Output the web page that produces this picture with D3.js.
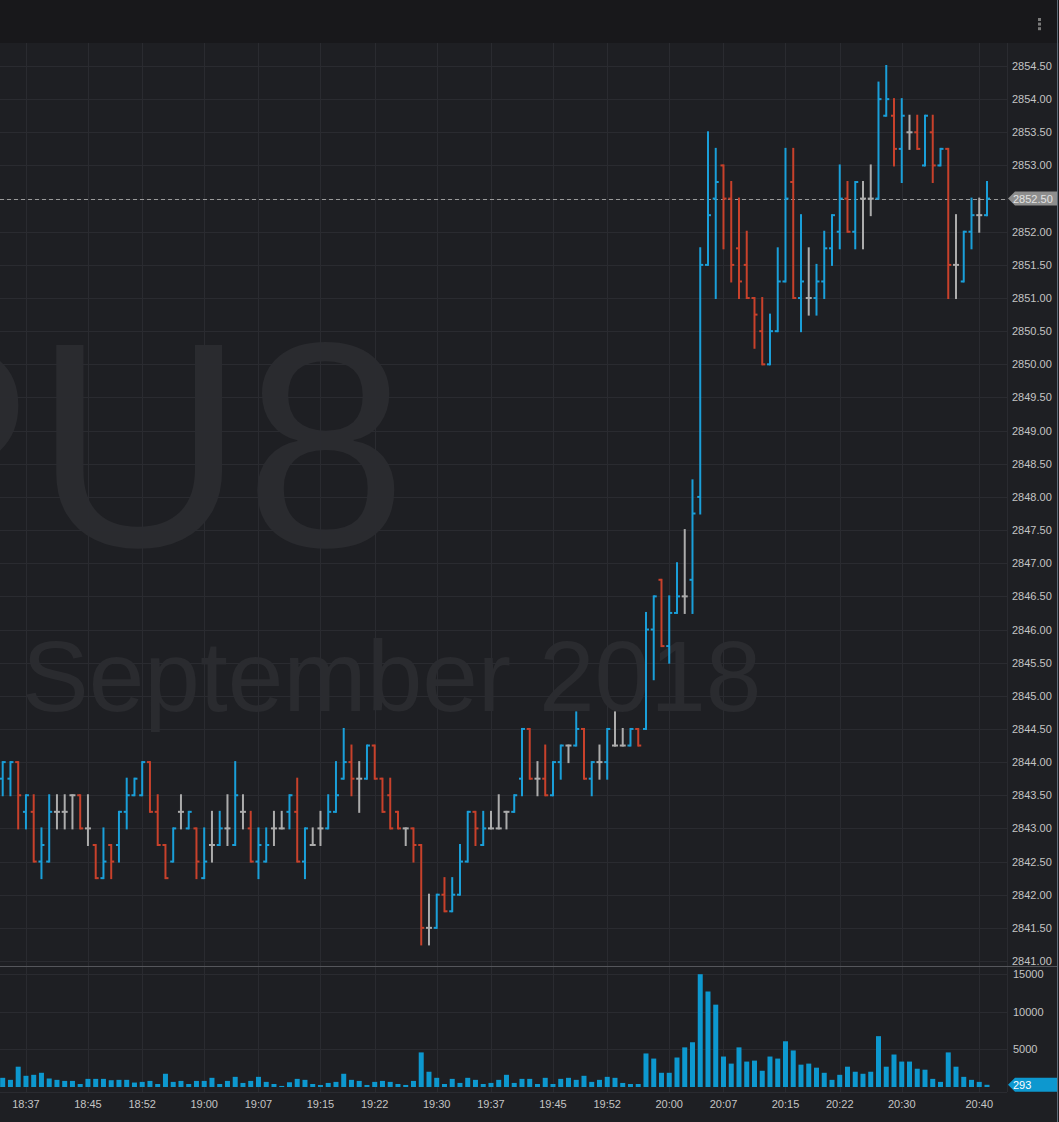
<!DOCTYPE html>
<html lang="en">
<head>
    <meta charset="UTF-8">
    <title>SPU8 1 min</title>
    <style>
        html, body { margin: 0; padding: 0; background: #1e1f23; }
        svg { display: block; }
        text { font-family: "Liberation Sans", Arial, sans-serif; }
    </style>
</head>
<body>
    <div id="chart"></div>
    <script src="https://d3js.org/d3.v7.min.js"></script>
    <script>
        // one bar per minute, first bar 18:34
        const firstBar = "18:34";
        const priceOpen = [
            2843.75, 2843.75, 2844.0, 2843.25, 2843.25, 2842.5, 2842.5, 2843.25, 2843.25, 2843.5,
            2843.5, 2843.0, 2842.75, 2842.25, 2842.75, 2842.75, 2843.25, 2843.5, 2843.5, 2844.0,
            2843.25, 2842.75, 2842.5, 2843.25, 2843.0, 2843.0, 2842.25, 2842.75, 2842.75, 2843.0,
            2842.75, 2843.25, 2843.0, 2842.5, 2842.5, 2843.0, 2843.0, 2843.25, 2843.25, 2842.5,
            2842.75, 2843.0, 2843.0, 2843.25, 2843.75, 2844.0, 2843.75, 2843.75, 2844.25, 2843.75,
            2843.5, 2843.25, 2843.0, 2843.0, 2842.75, 2841.5, 2841.5, 2842.0, 2841.75, 2842.0,
            2842.5, 2843.25, 2842.75, 2843.0, 2843.0, 2843.25, 2843.25, 2843.75, 2844.5, 2843.75,
            2843.75, 2843.5, 2844.0, 2844.25, 2844.25, 2844.5, 2843.75, 2844.0, 2844.0, 2844.25,
            2844.25, 2844.25, 2844.5, 2844.5, 2846.0, 2846.75, 2845.75, 2846.25, 2846.5, 2846.75,
            2848.0, 2851.5, 2852.5, 2853.0, 2852.5, 2851.75, 2851.5, 2851.0, 2850.5, 2850.0,
            2850.5, 2851.25, 2852.75, 2851.0, 2851.0, 2851.0, 2851.25, 2851.75, 2852.0, 2852.5,
            2852.0, 2852.5, 2852.5, 2852.5, 2853.75, 2853.75, 2853.25, 2853.5, 2853.5, 2853.0,
            2853.5, 2853.0, 2853.25, 2851.5, 2851.25, 2852.0, 2852.25, 2852.25
        ];
        const priceHigh = [
            2844.0, 2844.0, 2844.0, 2843.5, 2843.5, 2843.0, 2843.5, 2843.5, 2843.5, 2843.5,
            2843.5, 2843.5, 2842.75, 2843.0, 2842.75, 2843.25, 2843.75, 2843.75, 2844.0, 2844.0,
            2843.5, 2842.75, 2843.0, 2843.5, 2843.25, 2843.0, 2843.0, 2843.25, 2843.25, 2843.5,
            2844.0, 2843.5, 2843.25, 2843.0, 2843.0, 2843.25, 2843.25, 2843.5, 2843.75, 2843.0,
            2843.0, 2843.25, 2843.5, 2844.0, 2844.5, 2844.25, 2844.0, 2844.25, 2844.25, 2843.75,
            2843.75, 2843.25, 2843.0, 2843.0, 2842.75, 2842.0, 2842.0, 2842.25, 2842.25, 2842.75,
            2843.25, 2843.25, 2843.25, 2843.25, 2843.5, 2843.25, 2843.5, 2844.5, 2844.5, 2844.0,
            2844.25, 2844.0, 2844.25, 2844.25, 2844.75, 2844.5, 2844.0, 2844.25, 2844.5, 2844.75,
            2844.5, 2844.5, 2844.5, 2846.25, 2846.5, 2846.75, 2846.5, 2847.0, 2847.5, 2848.25,
            2851.75, 2853.5, 2853.25, 2853.0, 2852.75, 2852.5, 2852.0, 2851.0, 2851.0, 2850.75,
            2851.75, 2853.25, 2853.25, 2852.25, 2851.75, 2851.5, 2852.0, 2852.25, 2853.0, 2852.75,
            2852.75, 2852.75, 2853.0, 2854.25, 2854.5, 2854.0, 2854.0, 2853.75, 2853.75, 2853.75,
            2853.75, 2853.25, 2853.25, 2852.25, 2852.0, 2852.5, 2852.5, 2852.75
        ];
        const priceLow = [
            2843.5, 2843.5, 2843.0, 2843.0, 2842.5, 2842.25, 2842.5, 2843.0, 2843.0, 2843.0,
            2843.0, 2842.75, 2842.25, 2842.25, 2842.25, 2842.5, 2843.0, 2843.5, 2843.5, 2843.25,
            2842.75, 2842.25, 2842.5, 2843.0, 2843.0, 2842.25, 2842.25, 2842.5, 2842.75, 2842.75,
            2842.75, 2843.0, 2842.5, 2842.25, 2842.5, 2842.75, 2843.0, 2843.0, 2842.5, 2842.25,
            2842.75, 2842.75, 2843.0, 2843.25, 2843.75, 2843.5, 2843.25, 2843.75, 2843.75, 2843.25,
            2843.0, 2843.0, 2842.75, 2842.5, 2841.25, 2841.25, 2841.5, 2841.75, 2841.75, 2842.0,
            2842.5, 2842.75, 2842.75, 2843.0, 2843.0, 2843.0, 2843.25, 2843.5, 2843.75, 2843.5,
            2843.5, 2843.5, 2843.75, 2844.0, 2844.25, 2843.75, 2843.5, 2843.75, 2843.75, 2844.25,
            2844.25, 2844.25, 2844.25, 2844.5, 2845.25, 2845.75, 2845.5, 2846.25, 2846.25, 2846.25,
            2847.75, 2851.5, 2851.0, 2851.75, 2851.25, 2851.0, 2851.0, 2850.25, 2850.0, 2850.0,
            2850.5, 2851.25, 2851.0, 2850.5, 2850.75, 2850.75, 2851.0, 2851.5, 2851.75, 2852.0,
            2851.75, 2851.75, 2852.25, 2852.5, 2853.75, 2853.0, 2852.75, 2853.25, 2853.25, 2853.0,
            2852.75, 2853.0, 2851.0, 2851.0, 2851.25, 2851.75, 2852.0, 2852.25
        ];
        const priceClose = [
            2844.0, 2844.0, 2843.5, 2843.5, 2842.5, 2842.75, 2843.25, 2843.25, 2843.25, 2843.5,
            2843.0, 2843.0, 2842.25, 2842.5, 2842.5, 2843.25, 2843.5, 2843.75, 2844.0, 2843.25,
            2842.75, 2842.25, 2843.0, 2843.25, 2843.25, 2842.5, 2842.5, 2842.75, 2843.0, 2843.0,
            2843.5, 2843.25, 2842.5, 2842.75, 2842.75, 2843.0, 2843.0, 2843.5, 2842.5, 2843.0,
            2842.75, 2843.0, 2843.25, 2843.5, 2844.0, 2843.75, 2843.75, 2844.25, 2843.75, 2843.25,
            2843.0, 2843.0, 2843.0, 2842.75, 2841.5, 2841.5, 2842.0, 2841.75, 2842.0, 2842.5,
            2843.25, 2843.0, 2843.0, 2843.0, 2843.0, 2843.25, 2843.5, 2844.5, 2843.75, 2843.75,
            2843.5, 2844.0, 2844.25, 2844.25, 2844.5, 2843.75, 2844.0, 2844.0, 2844.5, 2844.25,
            2844.25, 2844.5, 2844.25, 2846.0, 2846.5, 2845.75, 2846.25, 2846.5, 2846.5, 2847.75,
            2851.5, 2852.25, 2852.75, 2852.5, 2851.5, 2851.25, 2851.0, 2850.75, 2850.0, 2850.5,
            2851.25, 2852.5, 2851.0, 2851.25, 2851.0, 2851.25, 2851.75, 2852.25, 2852.5, 2852.0,
            2852.75, 2852.5, 2852.5, 2854.0, 2854.0, 2853.25, 2853.75, 2853.5, 2853.25, 2853.75,
            2853.0, 2853.25, 2851.5, 2851.5, 2852.0, 2852.25, 2852.25, 2852.5
        ];
        const volume = [
            1220, 950, 2700, 1490, 1620, 1890, 1130, 950, 810, 810,
            400, 1080, 1080, 1080, 900, 950, 950, 590, 680, 810,
            400, 1760, 680, 810, 400, 810, 810, 1220, 400, 810,
            1350, 540, 810, 1350, 680, 400, 140, 630, 1080, 950,
            400, 270, 540, 680, 1760, 950, 810, 270, 680, 810,
            680, 400, 270, 810, 4600, 2030, 1220, 400, 1080, 540,
            1220, 950, 400, 540, 950, 1620, 540, 1080, 1080, 400,
            1220, 400, 1080, 1220, 950, 1490, 680, 950, 1350, 1220,
            540, 400, 400, 4460, 3780, 1890, 1890, 3920, 5270, 5950,
            15000, 12700, 10950, 4050, 3110, 5270, 3380, 3510, 2160, 4050,
            3780, 6080, 4860, 2970, 3110, 2570, 1890, 950, 1620, 2700,
            2030, 1760, 2030, 6760, 2700, 4320, 3380, 3380, 2430, 2300,
            1080, 680, 4600, 2700, 1350, 950, 680, 293
        ];
        const timeTicks = ["18:37", "18:45", "18:52", "19:00", "19:07", "19:15", "19:22", "19:30", "19:37",
            "19:45", "19:52", "20:00", "20:07", "20:15", "20:22", "20:30", "20:40"];
        const priceTicks = d3.range(2841, 2854.51, 0.5);
        const volumeTicks = [5000, 10000, 15000];
        const lastPrice = 2852.5;
        const symbol = "SPU8";
        const contract = "September 2018";

        const width = 1059, height = 1122;
        const plotRight = 1007;
        const colors = { up: "#1a9fd9", down: "#c8412b", flat: "#acacac" };

        function minutesOf(t) { const p = t.split(":"); return +p[0] * 60 + +p[1]; }
        const bars = priceOpen.map((o, i) => ({
            i: i, o: o, h: priceHigh[i], l: priceLow[i], c: priceClose[i], v: volume[i]
        }));

        const x = d3.scaleLinear().domain([0, bars.length - 1]).range([2.7, 987]);
        const y = d3.scaleLinear().domain([2841, 2854.5]).range([961, 66]);
        const yv = d3.scaleLinear().domain([0, 15000]).range([1087, 974.2]);

        const svg = d3.select("#chart").append("svg")
            .attr("width", width).attr("height", height);

        svg.append("rect").attr("width", width).attr("height", height).attr("fill", "#1e1f23");
        svg.append("rect").attr("width", width).attr("height", 43).attr("fill", "#18181b");

        // menu dots
        svg.append("g").selectAll("rect").data([0, 1, 2]).enter().append("rect")
            .attr("x", 1038).attr("y", d => 18 + d * 4.6).attr("width", 3).attr("height", 3)
            .attr("fill", "#7a7a7a");

        // watermark
        svg.append("text").attr("x", 407).attr("y", 546).attr("text-anchor", "end")
            .attr("font-size", 292).attr("fill", "#2a2b2f").text(symbol);
        svg.append("text").attr("x", 22).attr("y", 711)
            .attr("font-size", 100).attr("fill", "#2a2b2f").text(contract);

        const grid = svg.append("g").attr("stroke", "#2a2b30").attr("stroke-width", 1);
        const tickIdx = timeTicks.map(t => minutesOf(t) - minutesOf(firstBar));
        grid.selectAll(".vg").data(tickIdx).enter().append("line")
            .attr("x1", d => Math.round(x(d)) + 0.5).attr("x2", d => Math.round(x(d)) + 0.5)
            .attr("y1", 43).attr("y2", 1092);
        grid.selectAll(".hg").data(priceTicks).enter().append("line")
            .attr("x1", 0).attr("x2", plotRight)
            .attr("y1", d => Math.round(y(d)) + 0.5).attr("y2", d => Math.round(y(d)) + 0.5);
        grid.selectAll(".vhg").data(volumeTicks).enter().append("line")
            .attr("x1", 0).attr("x2", plotRight)
            .attr("y1", d => Math.round(yv(d)) + 0.5).attr("y2", d => Math.round(yv(d)) + 0.5);
        grid.append("line").attr("x1", 0).attr("x2", plotRight).attr("y1", 1092.5).attr("y2", 1092.5);
        grid.append("line").attr("x1", plotRight + 0.5).attr("x2", plotRight + 0.5).attr("y1", 43).attr("y2", 1092);

        // price axis labels
        svg.append("g").selectAll("text").data(priceTicks).enter().append("text")
            .attr("x", 1012).attr("y", d => y(d) + 4)
            .attr("font-size", 11).attr("fill", "#c4c4c4")
            .text(d => d.toFixed(2));

        // last price line and tag
        svg.append("line").attr("x1", 0).attr("x2", plotRight)
            .attr("y1", Math.round(y(lastPrice)) + 0.5).attr("y2", Math.round(y(lastPrice)) + 0.5)
            .attr("stroke", "#9a9a9a").attr("stroke-dasharray", "4,3");

        function tag(yy, fill, label, color) {
            const g = svg.append("g");
            g.append("path")
                .attr("d", `M1008,${yy} L1015,${yy - 7} L1057,${yy - 7} L1057,${yy + 7} L1015,${yy + 7} Z`)
                .attr("fill", fill);
            g.append("text").attr("x", 1013).attr("y", yy + 4)
                .attr("font-size", 11).attr("fill", color).text(label);
        }
        tag(y(lastPrice), "#8e8e8e", lastPrice.toFixed(2), "#e2e2e2");

        // OHLC bars
        const colorOf = d => d.c > d.o ? colors.up : (d.c < d.o ? colors.down : colors.flat);
        const ohlc = svg.append("g").attr("stroke-width", 2).attr("fill", "none");
        const bar = ohlc.selectAll("g").data(bars).enter().append("g")
            .attr("stroke", colorOf);
        bar.append("line")
            .attr("x1", d => x(d.i)).attr("x2", d => x(d.i))
            .attr("y1", d => y(d.h) - 1).attr("y2", d => y(d.l) + 1);
        bar.append("line")
            .attr("x1", d => x(d.i) - 3).attr("x2", d => x(d.i))
            .attr("y1", d => y(d.o)).attr("y2", d => y(d.o));
        bar.append("line")
            .attr("x1", d => x(d.i)).attr("x2", d => x(d.i) + 3)
            .attr("y1", d => y(d.c)).attr("y2", d => y(d.c));

        // pane separator
        svg.append("line").attr("x1", 0).attr("x2", 1057).attr("y1", 966.5).attr("y2", 966.5)
            .attr("stroke", "#55565b");

        // volume
        svg.append("g").selectAll("rect").data(bars).enter().append("rect")
            .attr("x", d => x(d.i) - 2.5).attr("width", 5)
            .attr("y", d => yv(d.v)).attr("height", d => yv(0) - yv(d.v))
            .attr("fill", "#0d98cf");

        svg.append("g").selectAll("text").data(volumeTicks).enter().append("text")
            .attr("x", 1013).attr("y", d => yv(d) + 4)
            .attr("font-size", 11).attr("fill", "#c4c4c4").text(d => d);
        tag(yv(volume[volume.length - 1]), "#0d98cf", String(volume[volume.length - 1]), "#ffffff");

        // time axis
        svg.append("g").selectAll("text").data(timeTicks).enter().append("text")
            .attr("x", t => x(minutesOf(t) - minutesOf(firstBar)))
            .attr("y", 1108).attr("text-anchor", "middle")
            .attr("font-size", 11).attr("fill", "#c4c4c4").text(t => t);

        svg.append("line").attr("x1", 1057.5).attr("x2", 1057.5).attr("y1", 0).attr("y2", height)
            .attr("stroke", "#5d6b78");
    </script>
</body>
</html>
